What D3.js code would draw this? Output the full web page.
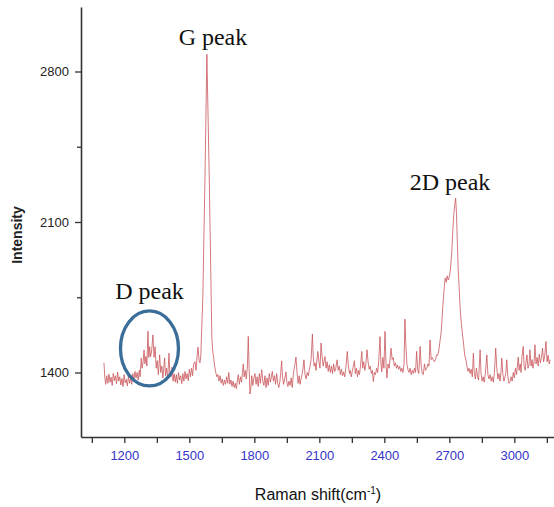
<!DOCTYPE html>
<html>
<head>
<meta charset="utf-8">
<script src="https://cdn.jsdelivr.net/npm/d3@7"></script>
<style>
  body { margin: 0; background: #fff; }
  svg { display: block; }
  .axis text { font-family: "Liberation Sans", Arial, sans-serif; font-size: 13px; }
  .axis path, .axis line { stroke: #333; }
  .note { font-family: "Liberation Serif", "Times New Roman", serif; font-size: 24px; fill: #111; }
</style>
</head>
<body>
<div id="chart"></div>
<script>
// Raman shift (cm-1) and intensity
var shift = [
  1106,1110,1114,1119,1124,1129,1134,1139,1144,1149,1154,1159,1164,1169,1174,1179,1184,1189,1194,1199,
  1204,1209,1214,1219,1224,1229,1234,1239,1244,1249,1254,1259,1264,1269,1273,1278,1282,1287,1291,1295,
  1300,1304,1309,1313,1317,1321,1326,1332,1337,1342,1347,1352,1357,1363,1368,1373,1378,1382,1386,1390,
  1395,1400,1406,1410,1415,1420,1425,1430,1435,1440,1445,1450,1455,1460,1465,1470,1475,1480,1485,1490,
  1495,1500,1505,1510,1515,1520,1526,1531,1536,1540,1545,1549,1553,1557,1562,1572,1581,1592,1601,1604,
  1608,1612,1617,1622,1627,1632,1637,1642,1647,1652,1657,1662,1667,1672,1677,1682,1687,1692,1697,1702,
  1707,1712,1717,1722,1726,1731,1736,1741,1745,1749,1753,1758,1763,1768,1772,1776,1780,1784,1788,1793,
  1798,1803,1808,1813,1818,1823,1828,1834,1839,1844,1849,1854,1859,1864,1869,1874,1879,1883,1888,1893,
  1898,1903,1908,1913,1918,1922,1926,1930,1935,1940,1946,1950,1955,1960,1965,1970,1975,1980,1986,1992,
  1997,2002,2007,2011,2015,2020,2025,2029,2034,2039,2044,2049,2053,2057,2062,2068,2072,2076,2080,2085,
  2089,2093,2098,2103,2108,2113,2118,2122,2126,2131,2136,2141,2146,2151,2156,2161,2166,2171,2176,2182,
  2187,2192,2197,2202,2207,2212,2217,2222,2229,2234,2239,2243,2247,2252,2257,2262,2266,2271,2276,2280,
  2285,2290,2296,2300,2305,2310,2315,2320,2325,2330,2335,2340,2345,2349,2354,2359,2364,2369,2374,2380,
  2384,2388,2393,2398,2403,2408,2412,2417,2422,2427,2431,2436,2441,2446,2451,2456,2461,2466,2471,2476,
  2481,2486,2491,2495,2499,2504,2509,2514,2519,2524,2529,2534,2539,2544,2549,2554,2559,2565,2570,2575,
  2580,2585,2590,2596,2601,2606,2611,2616,2621,2626,2631,2636,2641,2646,2651,2656,2662,2667,2672,2677,
  2681,2686,2690,2695,2700,2705,2711,2716,2720,2725,2729,2733,2737,2741,2745,2749,2755,2762,2767,2771,
  2776,2781,2786,2791,2796,2801,2806,2811,2815,2820,2825,2830,2835,2842,2846,2851,2856,2861,2866,2873,
  2878,2883,2888,2893,2898,2903,2908,2914,2919,2924,2929,2934,2938,2942,2947,2952,2957,2961,2965,2970,
  2975,2980,2985,2990,2995,3000,3005,3010,3014,3018,3022,3027,3031,3035,3041,3045,3050,3054,3058,3063,
  3068,3072,3077,3082,3086,3091,3095,3100,3105,3110,3115,3120,3125,3130,3135,3140,3146,3151,3156,3161,
  3165
];
var intensity = [
  1445,1375,1345,1385,1350,1392,1355,1378,1340,1396,1362,1385,1348,1402,1360,1380,1342,1372,1335,1390,
  1352,1368,1338,1384,1350,1376,1345,1395,1362,1405,1375,1400,1365,1410,1380,1467,1420,1450,1505,1440,
  1475,1430,1592,1470,1520,1474,1500,1575,1470,1520,1420,1455,1390,1482,1400,1430,1375,1420,1468,1385,
  1420,1370,1490,1395,1380,1425,1360,1395,1355,1390,1350,1400,1365,1385,1348,1395,1360,1405,1370,1395,
  1362,1415,1380,1420,1385,1440,1450,1410,1480,1518,1455,1445,1480,1600,1740,2300,2880,2300,1740,1560,
  1500,1470,1430,1400,1380,1390,1360,1385,1350,1370,1340,1365,1345,1380,1350,1400,1345,1365,1335,1360,
  1330,1350,1325,1365,1390,1345,1380,1355,1400,1440,1380,1410,1370,1430,1568,1420,1300,1330,1385,1340,
  1375,1395,1345,1380,1335,1395,1350,1413,1360,1340,1385,1330,1375,1340,1395,1355,1380,1405,1360,1385,
  1345,1395,1350,1330,1360,1400,1454,1380,1345,1370,1403,1355,1335,1360,1340,1375,1330,1395,1430,1472,
  1400,1350,1385,1345,1366,1390,1420,1459,1390,1370,1400,1385,1410,1428,1460,1579,1470,1430,1445,1410,
  1460,1498,1450,1420,1537,1470,1430,1455,1474,1420,1450,1405,1436,1400,1430,1395,1440,1405,1420,1459,
  1410,1430,1390,1415,1385,1403,1380,1420,1498,1430,1395,1410,1380,1405,1430,1455,1395,1420,1380,1410,
  1390,1430,1498,1420,1450,1410,1440,1506,1450,1415,1430,1395,1410,1358,1400,1390,1420,1400,1450,1567,
  1450,1403,1470,1420,1591,1430,1375,1440,1420,1470,1513,1460,1470,1430,1445,1420,1435,1415,1428,1405,
  1420,1400,1440,1648,1537,1440,1413,1400,1420,1390,1410,1395,1420,1400,1498,1410,1395,1521,1430,1395,
  1390,1440,1410,1420,1440,1430,1552,1460,1470,1459,1450,1460,1482,1480,1500,1540,1584,1660,1738,1800,
  1840,1820,1850,1830,1845,1880,1956,2060,2130,2180,2211,2140,2000,1880,1800,1715,1630,1566,1520,1480,
  1460,1430,1405,1420,1395,1415,1380,1490,1400,1370,1420,1380,1365,1506,1400,1360,1380,1355,1395,1482,
  1390,1370,1390,1360,1380,1355,1400,1513,1420,1370,1395,1360,1400,1467,1390,1360,1380,1400,1459,1380,
  1350,1358,1380,1360,1400,1375,1420,1390,1430,1472,1410,1440,1400,1472,1521,1430,1410,1450,1482,1420,
  1440,1506,1430,1460,1420,1450,1529,1440,1470,1430,1485,1445,1470,1513,1450,1475,1544,1450,1480,1440,
  1459
];

// Axis ticks
var xMajor = [1200, 1500, 1800, 2100, 2400, 2700, 3000];
var xMinor = [1050, 1350, 1650, 1950, 2250, 2550, 2850, 3150];
var yMajor = [1400, 2100, 2800];
var yMinor = [1750, 2450];

// Peak labels
var peakNames = ['G peak', '2D peak', 'D peak'];
var peakShift = [1609, 2703, 1316];
var peakLevel = [2923, 2249, 1740];

var width = 554, height = 507;
var margin = {top: 7, right: 0, bottom: 70, left: 81};

var svg = d3.select('#chart').append('svg')
  .attr('width', width)
  .attr('height', height);

var x = d3.scaleLinear()
  .domain([1000, 3183])
  .range([margin.left, width - margin.right]);

var y = d3.scaleLinear()
  .domain([1100, 3100])
  .range([height - margin.bottom, margin.top]);

var data = shift.map(function(s, i) { return {s: s, v: intensity[i]}; });

// x axis, major and minor ticks
var xAxis = svg.append('g')
  .attr('class', 'axis')
  .attr('transform', 'translate(0,' + (height - margin.bottom) + ')')
  .call(d3.axisBottom(x).tickValues(xMajor).tickFormat(d3.format('d'))
    .tickSize(6).tickSizeOuter(0).tickPadding(8));
xAxis.selectAll('text').attr('fill', '#3535c8');
xAxis.select('.domain').attr('stroke-width', 1.6);
xAxis.selectAll('.tick line').attr('stroke-width', 1.3);

svg.append('g')
  .attr('class', 'axis')
  .attr('transform', 'translate(0,' + (height - margin.bottom) + ')')
  .call(d3.axisBottom(x).tickValues(xMinor).tickSize(6).tickFormat(''))
  .call(function(g) { g.select('.domain').remove(); })
  .selectAll('.tick line').attr('stroke-width', 1.3);

// y axis
var yAxis = svg.append('g')
  .attr('class', 'axis')
  .attr('transform', 'translate(' + margin.left + ',0)')
  .call(d3.axisLeft(y).tickValues(yMajor).tickFormat(d3.format('d'))
    .tickSize(6).tickSizeOuter(0).tickPadding(6));
yAxis.selectAll('text').attr('fill', '#222');
yAxis.select('.domain').attr('stroke-width', 1.6);
yAxis.selectAll('.tick line').attr('stroke-width', 1.3);

svg.append('g')
  .attr('class', 'axis')
  .attr('transform', 'translate(' + margin.left + ',0)')
  .call(d3.axisLeft(y).tickValues(yMinor).tickSize(4).tickFormat(''))
  .call(function(g) { g.select('.domain').remove(); })
  .selectAll('.tick line').attr('stroke-width', 1.3);

// axis titles
svg.append('text')
  .attr('x', 318)
  .attr('y', 500)
  .attr('text-anchor', 'middle')
  .style('font-family', '"Liberation Sans", Arial, sans-serif')
  .style('font-size', '16px')
  .attr('fill', '#111')
  .html('Raman shift(cm<tspan dy="-6" font-size="10px">-1</tspan><tspan dy="6">)</tspan>');

svg.append('text')
  .attr('transform', 'translate(22,235)rotate(-90)')
  .attr('text-anchor', 'middle')
  .style('font-family', '"Liberation Sans", Arial, sans-serif')
  .style('font-size', '14px')
  .style('font-weight', 'bold')
  .attr('fill', '#222')
  .text('Intensity');

// spectrum
var line = d3.line()
  .x(function(d) { return x(d.s); })
  .y(function(d) { return y(d.v); });

svg.append('path')
  .datum(data)
  .attr('d', line)
  .attr('fill', 'none')
  .attr('stroke', '#c9585c')
  .attr('stroke-width', 1)
  .attr('stroke-opacity', 0.8)
  .attr('stroke-linejoin', 'round');

// peak labels
svg.selectAll('.note')
  .data(peakNames)
  .enter().append('text')
  .attr('class', 'note')
  .attr('x', function(d, i) { return x(peakShift[i]); })
  .attr('y', function(d, i) { return y(peakLevel[i]); })
  .attr('text-anchor', 'middle')
  .text(function(d) { return d; });

// circle round the D peak
svg.append('ellipse')
  .attr('cx', x(1316))
  .attr('cy', y(1512))
  .attr('rx', 29)
  .attr('ry', 37.5)
  .attr('fill', 'none')
  .attr('stroke', '#3b6d99')
  .attr('stroke-width', 3.3);
</script>
</body>
</html>
